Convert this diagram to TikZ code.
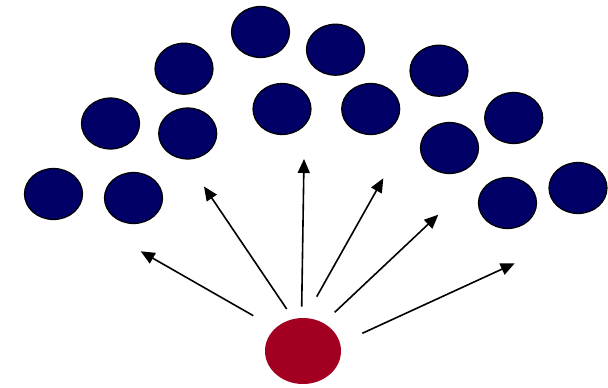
\documentclass[tikz,border=0pt]{standalone}
\usetikzlibrary{shapes.geometric,arrows.meta}
\definecolor{dotblue}{RGB}{0,0,102}
\definecolor{srcred}{RGB}{163,0,33}
\begin{document}
\begin{tikzpicture}[x=1pt,y=-1pt,
    dot/.style={ellipse,draw=black,line width=1.2pt,fill=dotblue,minimum width=58pt,minimum height=51pt,inner sep=0pt},
    src/.style={ellipse,fill=srcred,minimum width=76pt,minimum height=66pt,inner sep=0pt},
    ray/.style={line width=1.6pt,-{Triangle[length=14pt,width=12pt]}}]
    \useasboundingbox (0,0) rectangle (608,388);
    % the dots
    \foreach \name/\px/\py in {d1/53.5/194, d2/133.5/198, d3/110.5/123.5, d4/187.7/133.5,
        d5/184/68.7, d6/260.5/32, d7/282/109, d8/335.5/49.7, d9/370.7/109,
        d10/439/70.7, d11/449.5/148, d12/513.7/118, d13/507.5/203, d14/578/188}
        \node[dot] (\name) at (\px,\py) {};
    % the source
    \node[src] (s) at (303,351) {};
    % the rays
    \foreach \i/\ax/\ay/\bx/\by in {1/253.3/315.7/140.7/251.3, 2/286.7/309/204/186.5,
        3/301.7/306.7/304/159, 4/316.7/296.7/383.3/178.3, 5/334.7/312.3/438.3/214.7,
        6/362.3/333.3/514.7/263.3}{
        \coordinate (t\i) at (\ax,\ay);
        \coordinate (h\i) at (\bx,\by);
        \draw[ray] (t\i) -- (h\i);
    }
\end{tikzpicture}
\end{document}
